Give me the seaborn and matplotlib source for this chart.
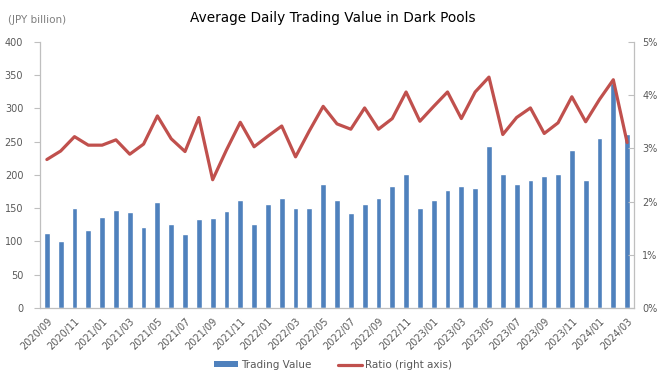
import numpy as np
import matplotlib
matplotlib.use("Agg")
import matplotlib.pyplot as plt
import matplotlib.ticker as mticker
from matplotlib.patches import Patch
from matplotlib.lines import Line2D
import pandas as pd
import seaborn as sns

# monthly data, 2020/09 .. 2024/03
months = pd.period_range("2020-09", "2024-03", freq="M").strftime("%Y/%m").tolist()
trading_value = [112, 100, 150, 117, 136, 148, 144, 121, 160, 126, 111, 133,
                 135, 145, 162, 126, 157, 165, 151, 150, 187, 163, 142, 156,
                 165, 184, 201, 150, 163, 177, 184, 180, 243, 201, 187, 192,
                 199, 201, 238, 193, 256, 338, 262]
ratio_pct = [2.79, 2.95, 3.22, 3.06, 3.06, 3.16, 2.89, 3.08, 3.61, 3.18, 2.94, 3.58,
             2.41, 2.97, 3.49, 3.03, 3.23, 3.42, 2.84, 3.33, 3.79, 3.46, 3.36, 3.76,
             3.36, 3.56, 4.06, 3.51, 3.79, 4.06, 3.56, 4.06, 4.34, 3.26, 3.58, 3.76,
             3.28, 3.48, 3.97, 3.50, 3.92, 4.29, 3.11]

df = pd.DataFrame({"month": months, "value": trading_value, "ratio": ratio_pct})
df["pos"] = np.arange(len(df))

bar_color = "#4F81BD"
line_color = "#C0504D"
grey = "#595959"
spine_grey = "#BFBFBF"

sns.set_style("white")
plt.rcParams["font.family"] = ["DejaVu Sans"]

fig = plt.figure(figsize=(6.66, 3.75), dpi=100)
ax = fig.add_axes([0.060, 0.179, 0.892, 0.709])

sns.barplot(data=df, x="month", y="value", color=bar_color, width=0.42,
            saturation=1, ax=ax)
ax.set_xlim(-0.5, len(df) - 0.5)
ax.set_ylim(0, 400)
ax.set_yticks(range(0, 401, 50))
ax.set_xlabel("")
ax.set_ylabel("")

ax2 = ax.twinx()
sns.lineplot(data=df, x="pos", y="ratio", color=line_color, linewidth=2.3, ax=ax2)
ax2.set_ylim(0, 5)
ax2.set_yticks(range(0, 6))
ax2.yaxis.set_major_formatter(mticker.FuncFormatter(lambda v, p: f"{v:.0f}%"))
ax2.set_xlabel("")
ax2.set_ylabel("")
ax2.set_xlim(-0.5, len(df) - 0.5)

# x ticks: labels every two months, tick marks at category boundaries
ax.set_xticks(df["pos"][::2])
ax.set_xticklabels(df["month"][::2], rotation=45, ha="right", rotation_mode="anchor",
                   fontsize=7, color=grey)
ax.set_xticks(np.arange(-0.5, len(df), 2), minor=True)
ax.tick_params(axis="x", which="major", length=0, pad=6)
ax.tick_params(axis="x", which="minor", length=4, color=spine_grey, width=0.8)
ax.tick_params(axis="y", length=4, color=spine_grey, width=0.8, labelsize=7,
               labelcolor=grey, pad=8)
ax2.tick_params(axis="y", direction="in", length=4, color=spine_grey, width=0.8,
                labelsize=7, labelcolor=grey, pad=6)

for a in (ax, ax2):
    for s in a.spines.values():
        s.set_visible(False)
ax.spines["left"].set_visible(True)
ax.spines["bottom"].set_visible(True)
ax2.spines["right"].set_visible(True)
for s in (ax.spines["left"], ax.spines["bottom"], ax2.spines["right"]):
    s.set_color(spine_grey)
    s.set_linewidth(0.9)

fig.text(0.5, 0.952, "Average Daily Trading Value in Dark Pools", ha="center",
         va="center", fontsize=9.8, color="#000000")
fig.text(0.012, 0.946, "(JPY billion)", ha="left", va="center", fontsize=7.5,
         color="#7F7F7F")

handles = [Patch(facecolor=bar_color, edgecolor="none"),
           Line2D([0], [0], color=line_color, linewidth=2.3)]
fig.legend(handles, ["Trading Value", "Ratio (right axis)"], loc="center",
           bbox_to_anchor=(0.5, 0.027), ncol=2, frameon=False, fontsize=7.5,
           handlelength=2.3, handleheight=0.5, columnspacing=2.5, handletextpad=0.3,
           labelcolor=grey)

fig.savefig("out.png", dpi=100)
